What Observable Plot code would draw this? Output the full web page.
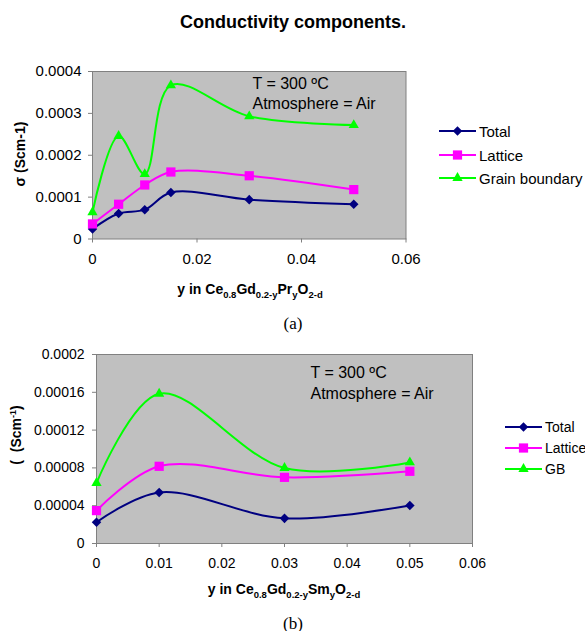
<!DOCTYPE html>
<html>
<head>
<meta charset="utf-8">
<script src="https://cdn.jsdelivr.net/npm/d3@7"></script>
<script src="https://cdn.jsdelivr.net/npm/@observablehq/plot@0.6"></script>
<style>
  html, body { margin: 0; padding: 0; background: #fff; }
  #root { position: relative; width: 585px; height: 631px; overflow: hidden; font-family: "Liberation Sans", Arial, sans-serif; color: #000; }
  .abs { position: absolute; white-space: nowrap; line-height: 1; }
  .c { transform: translate(-50%, -50%); }
  .sub { font-size: 9.5px; position: relative; top: 4px; }
  .sup { font-size: 9px; position: relative; top: -5px; }
</style>
</head>
<body>
<div id="root"></div>
<script>
// ---------- data ----------
// chart (a): y in Ce0.8Gd0.2-yPryO2-d
const xA = [0, 0.005, 0.01, 0.015, 0.03, 0.05];
const totalA = [0.000024, 0.000061, 0.00007, 0.000111, 0.000094, 0.000083];
const latticeA = [0.000036, 0.000083, 0.000129, 0.00016, 0.000151, 0.000118];
const gbA = [0.000064, 0.000246, 0.000155, 0.000367, 0.000293, 0.000272];
const xTicksA = [0, 0.02, 0.04, 0.06];
const yTicksA = [0, 0.0001, 0.0002, 0.0003, 0.0004];
const namesA = ["Total", "Lattice", "Grain boundary"];

// chart (b): y in Ce0.8Gd0.2-ySmyO2-d
const xB = [0, 0.01, 0.03, 0.05];
const totalB = [0.0000225, 0.000054, 0.0000266, 0.0000403];
const latticeB = [0.0000348, 0.0000817, 0.00007, 0.0000764];
const gbB = [0.000064, 0.0001585, 0.0000799, 0.0000858];
const xTicksB = [0, 0.01, 0.02, 0.03, 0.04, 0.05, 0.06];
const yTicksB = [0, 0.00004, 0.00008, 0.00012, 0.00016, 0.0002];
const namesB = ["Total", "Lattice", "GB"];

const annotation = ["T = 300 ºC", "Atmosphere = Air"];

// ---------- styles ----------
const colors = ["#000080", "#ff00ff", "#00ff00"];
const symbols = ["diamond2", "square", "triangle"];
const d3symbols = [d3.symbolDiamond2, d3.symbolSquare, d3.symbolTriangle];
const radii = [4.3, 5.2, 3.8];

const fmt = d => d === 0 ? "0" : String(+d.toPrecision(6));

function rows(xs, seriesVals, names) {
  const out = [];
  seriesVals.forEach((vals, k) => vals.forEach((v, i) => out.push({x: xs[i], y: v, s: names[k], k})));
  return out;
}

const root = document.getElementById("root");
function place(html, x, y, css, centered = true) {
  const d = document.createElement("div");
  d.className = "abs" + (centered ? " c" : "");
  d.style.left = x + "px";
  d.style.top = y + "px";
  d.style.cssText += css || "";
  d.innerHTML = html;
  root.appendChild(d);
  return d;
}

function makeChart({xs, vals, names, xTicks, yTicks, yMax, top, height, mt, mb, ml, mr, fs, xpad, ypad, annDx, annDy, lh}) {
  const data = rows(xs, vals, names);
  const marks = [
    Plot.frame({fill: "#c0c0c0", stroke: "#808080"}),
    Plot.axisY({ticks: yTicks, tickFormat: fmt, tickSize: 4, tickPadding: ypad, stroke: "#808080", fill: "#000", fontSize: fs, label: null}),
    Plot.axisX({ticks: xTicks, tickFormat: fmt, tickSize: 4, tickPadding: xpad, stroke: "#808080", fill: "#000", fontSize: fs, label: null}),
  ];
  names.forEach((n, k) => {
    const sd = data.filter(d => d.k === k);
    marks.push(Plot.line(sd, {x: "x", y: "y", stroke: colors[k], strokeWidth: 2, curve: "catmull-rom"}));
  });
  names.forEach((n, k) => {
    const sd = data.filter(d => d.k === k);
    marks.push(Plot.dot(sd, {x: "x", y: "y", symbol: symbols[k], r: radii[k], fill: colors[k], stroke: "none"}));
  });
  annotation.forEach((t, i) => {
    marks.push(Plot.text([t], {text: d => d, frameAnchor: "top-left", textAnchor: "start", lineAnchor: "middle", dx: annDx, dy: annDy + i * lh, fontSize: 16, fill: "#000"}));
  });
  const svg = Plot.plot({
    width: 585, height,
    marginTop: mt, marginBottom: mb, marginLeft: ml, marginRight: mr,
    x: {domain: [0, 0.06]},
    y: {domain: [0, yMax]},
    style: {fontFamily: '"Liberation Sans", Arial, sans-serif', background: "transparent", color: "#000", overflow: "visible"},
    marks
  });
  svg.style.position = "absolute";
  svg.style.left = "0px";
  svg.style.top = top + "px";
  root.appendChild(svg);
}

function legend(names, x, ys, fs) {
  names.forEach((n, k) => {
    const w = 40, h = 16;
    const s = d3.create("svg").attr("width", w).attr("height", h)
      .style("position", "absolute").style("left", x + "px").style("top", (ys[k] - h / 2) + "px").style("overflow", "visible");
    s.append("line").attr("x1", 0).attr("x2", 37).attr("y1", h / 2).attr("y2", h / 2)
      .attr("stroke", colors[k]).attr("stroke-width", 2);
    s.append("path").attr("d", d3.symbol(d3symbols[k], Math.PI * radii[k] * radii[k])())
      .attr("transform", `translate(18.5,${h / 2})`).attr("fill", colors[k]);
    root.appendChild(s.node());
    place(n, x + 40, ys[k], `font-size:${fs}px;transform:translateY(-50%);`, false);
  });
}

// ---------- chart (a) ----------
place("Conductivity components.", 293, 22, "font-size:18px;font-weight:bold;");
makeChart({xs: xA, vals: [totalA, latticeA, gbA], names: namesA, xTicks: xTicksA, yTicks: yTicksA, yMax: 0.0004,
  top: 40, height: 230, mt: 31, mb: 31.5, ml: 92, mr: 179.5, fs: 15, xpad: 10, ypad: 7, annDx: 160, annDy: 12, lh: 20.5});
place("σ (Scm-1)", 20, 154, "font-size:14px;font-weight:bold;transform:translate(-50%,-50%) rotate(-90deg);");
place('y in Ce<span class="sub">0.8</span>Gd<span class="sub">0.2-y</span>Pr<span class="sub">y</span>O<span class="sub">2-d</span>',
  250, 289, "font-size:14px;font-weight:bold;");
legend(namesA, 439, [131, 154.5, 178], 15);
place("(a)", 293, 323, 'font-family:"Liberation Serif","Times New Roman",serif;font-size:17px;');

// ---------- chart (b) ----------
makeChart({xs: xB, vals: [totalB, latticeB, gbB], names: namesB, xTicks: xTicksB, yTicks: yTicksB, yMax: 0.0002,
  top: 330, height: 245, mt: 24, mb: 32, ml: 96, mr: 113, fs: 14, xpad: 11, ypad: 8, annDx: 214, annDy: 18, lh: 21});
place('( &nbsp;(Scm<span class="sup">-1</span>)', 16, 435, "font-size:14px;font-weight:bold;transform:translate(-50%,-50%) rotate(-90deg);");
place('y in Ce<span class="sub">0.8</span>Gd<span class="sub">0.2-y</span>Sm<span class="sub">y</span>O<span class="sub">2-d</span>',
  284, 589, "font-size:14px;font-weight:bold;");
legend(namesB, 505, [427, 448, 469], 14);
place("(b)", 293, 623, 'font-family:"Liberation Serif","Times New Roman",serif;font-size:17px;');
</script>
</body>
</html>
